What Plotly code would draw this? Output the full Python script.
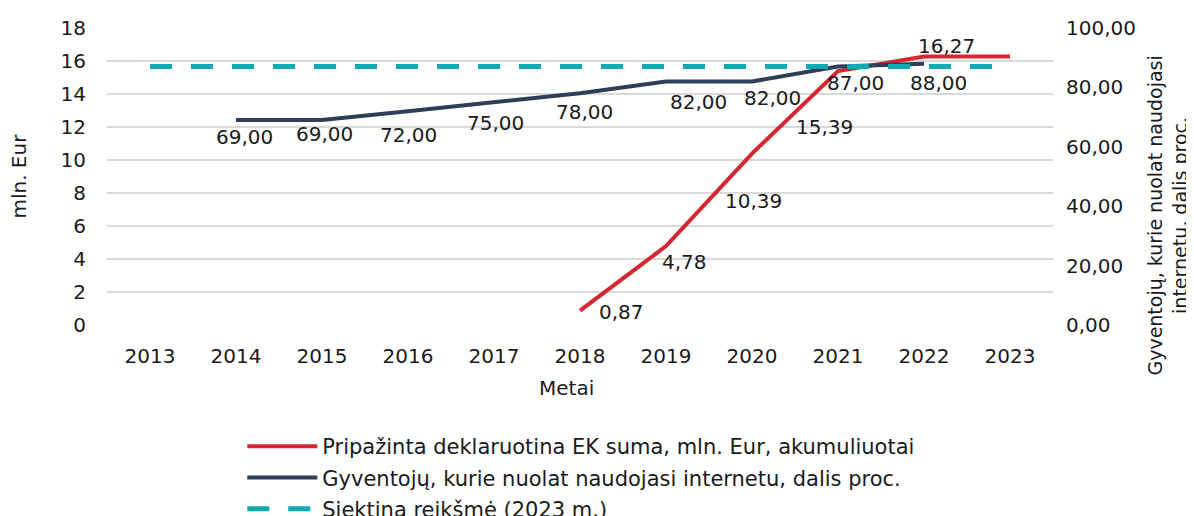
import plotly.graph_objects as go

years = ["2013", "2014", "2015", "2016", "2017", "2018", "2019", "2020", "2021", "2022", "2023"]

ek_suma = [None, None, None, None, None, 0.87, 4.78, 10.39, 15.39, 16.27, 16.27]
ek_labels = ["", "", "", "", "", "0,87", "4,78", "10,39", "15,39", "16,27", ""]

internetas = [None, 69.0, 69.0, 72.0, 75.0, 78.0, 82.0, 82.0, 87.0, 88.0, None]
internetas_labels = ["", "69,00", "69,00", "72,00", "75,00", "78,00", "82,00", "82,00", "87,00", "88,00", ""]

siektina = [87.0] * len(years)

# label offsets in px (dx right, dy down), same order as years
ek_offsets = [None] * 5 + [(41, 1), (18, 16), (1, 47), (-14, 56), (22, -11), None]
int_offsets = [None, (8, 17), (2, 14), (0, 24), (1, 21), (4, 19), (32, 21), (20, 17), (17, 16), (14, 19), None]

RED = "#D7262F"
NAVY = "#2E3E58"
TEAL = "#13A9B4"
FONT = "DejaVu Sans"
TXT = "#1a1a1a"
FS = 20

fig = go.Figure()
fig.add_trace(
    go.Scatter(
        x=years, y=ek_suma, mode="lines", name="Pripažinta deklaruotina EK suma, mln. Eur, akumuliuotai",
        line=dict(color=RED, width=4), legendgroup="a", yaxis="y",
    )
)
fig.add_trace(
    go.Scatter(
        x=years, y=internetas, mode="lines", name="Gyventojų, kurie nuolat naudojasi internetu, dalis proc.",
        line=dict(color=NAVY, width=4), legendgroup="b", yaxis="y2",
    )
)
fig.add_trace(
    go.Scatter(
        x=years, y=siektina, mode="lines", name="Siektina reikšmė (2023 m.)",
        line=dict(color=TEAL, width=5, dash="22px,19px"), legendgroup="c", yaxis="y2",
    )
)

annotations = []
for i, (val, lab, off) in enumerate(zip(ek_suma, ek_labels, ek_offsets)):
    if lab and off:
        annotations.append(dict(x=i, y=val, xref="x", yref="y", text=lab, showarrow=False,
                                xshift=off[0], yshift=-off[1], font=dict(size=FS, color=TXT)))
for i, (val, lab, off) in enumerate(zip(internetas, internetas_labels, int_offsets)):
    if lab and off:
        annotations.append(dict(x=i, y=val, xref="x", yref="y2", text=lab, showarrow=False,
                                xshift=off[0], yshift=-off[1], font=dict(size=FS, color=TXT)))

annotations += [
    dict(x=-0.094, y=0.5, xref="paper", yref="paper", text="mln. Eur", textangle=-90,
         xanchor="center", yanchor="middle", showarrow=False, font=dict(size=FS, color=TXT)),
    dict(x=1.121, y=0.37, xref="paper", yref="paper",
         text="Gyventojų, kurie nuolat naudojasi<br>internetu, dalis proc.", textangle=-90,
         xanchor="center", yanchor="middle", showarrow=False, font=dict(size=19, color=TXT)),
    dict(x=0.486, y=-0.212, xref="paper", yref="paper", text="Metai",
         xanchor="center", yanchor="middle", showarrow=False, font=dict(size=FS, color=TXT)),
]

# page body has an 8px margin, so the figure is 8px smaller and the margins shifted
fig.update_layout(
    width=1186,
    height=508,
    margin=dict(l=99, r=141, t=20, b=191, autoexpand=False),
    paper_bgcolor="white",
    plot_bgcolor="white",
    font=dict(family=FONT, size=FS, color=TXT),
    separators=",.",
    showlegend=True,
    legend=dict(
        x=0.143, y=-0.34, xanchor="left", yanchor="top",
        traceorder="grouped", tracegroupgap=1, itemwidth=70,
        font=dict(size=21, color=TXT), bgcolor="rgba(0,0,0,0)",
    ),
    xaxis=dict(
        type="category", range=[-0.5, 10.5], showgrid=False, zeroline=False,
        showline=False, ticks="", ticklabelstandoff=17,
    ),
    yaxis=dict(
        range=[0, 18], dtick=2, showgrid=True, gridcolor="#D9D9D9", gridwidth=1.5,
        zeroline=False, showline=False, ticks="", ticklabelstandoff=20,
    ),
    yaxis2=dict(
        range=[0, 100], dtick=20, tickformat=".2f", overlaying="y", side="right",
        showgrid=False, zeroline=False, showline=False, ticks="", ticklabelstandoff=12,
    ),
    annotations=annotations,
)

fig.write_html("out.html")
